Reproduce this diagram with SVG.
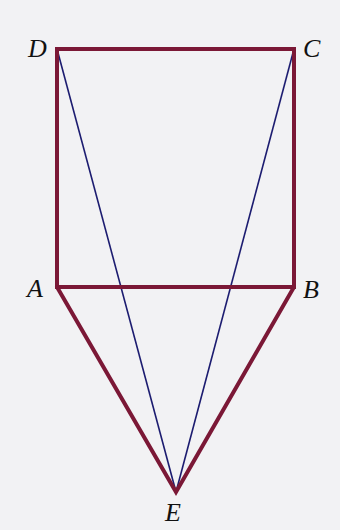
<svg xmlns="http://www.w3.org/2000/svg" width="340" height="530" viewBox="0 0 340 530">
<style>
.thick{stroke:#7b1836;stroke-width:4;fill:none;stroke-linejoin:miter;stroke-linecap:round}
.thin{stroke:#1c1c70;stroke-width:1.6;fill:none}
.lbl{font-family:"Liberation Serif","Times New Roman",serif;font-style:italic;font-size:26px;fill:#111}
</style>
<rect width="340" height="530" fill="#f2f2f4"/>
<g id="connectors">
<line class="thin" x1="57" y1="49" x2="176" y2="492"/>
<line class="thin" x1="294" y1="49" x2="176" y2="492"/>
<polygon class="thick" points="57,49 294,49 294,287 57,287"/>
<polyline class="thick" points="57,287 176,492 294,287"/>
</g>
<g id="D"><text class="lbl" x="28" y="57">D</text></g>
<g id="C"><text class="lbl" x="303" y="57">C</text></g>
<g id="A"><text class="lbl" x="27" y="297">A</text></g>
<g id="B"><text class="lbl" x="303" y="298">B</text></g>
<g id="E"><text class="lbl" x="165" y="521">E</text></g>
</svg>
